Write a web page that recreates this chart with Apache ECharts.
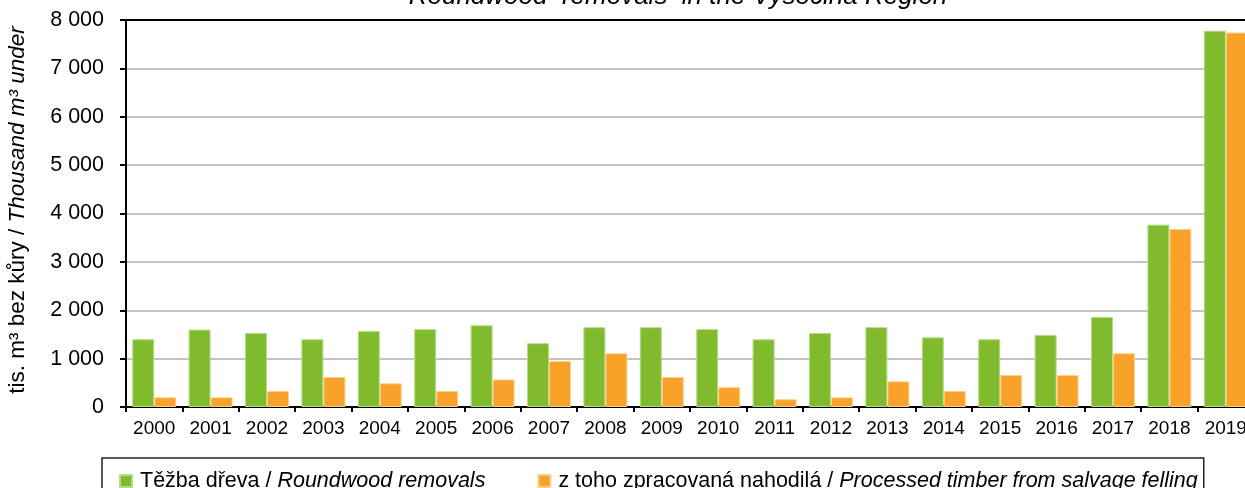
<!DOCTYPE html>
<html>
<head>
<meta charset="utf-8">
<script src="https://cdn.jsdelivr.net/npm/echarts@6/dist/echarts.min.js"></script>
<style>
html,body{margin:0;padding:0;background:#fff;overflow:hidden;width:1245px;height:488px;}
#c{width:1270px;height:488px;}
</style>
</head>
<body>
<div id="c"></div>
<script>
var categories = ['2000','2001','2002','2003','2004','2005','2006','2007','2008','2009','2010','2011','2012','2013','2014','2015','2016','2017','2018','2019'];
var roundwood = [1400,1600,1530,1400,1570,1610,1690,1320,1650,1650,1610,1400,1530,1650,1440,1400,1490,1860,3770,7780];
var salvage = [200,200,330,620,490,330,570,950,1110,620,410,160,200,530,330,660,660,1110,3680,7740];
var seriesNames = ['Těžba dřeva / Roundwood removals','z toho zpracovaná nahodilá / Processed timber from salvage felling'];
var yTicks = [0,1000,2000,3000,4000,5000,6000,7000,8000];

var FONT = '"Liberation Sans", Arial, sans-serif';
var chart = echarts.init(document.getElementById('c'));
function fmt(v){ return String(v).replace(/\B(?=(\d{3})+(?!\d))/g, ' '); }

chart.setOption({
  animation: false,
  backgroundColor: '#ffffff',
  textStyle: {fontFamily: FONT},
  grid: {left: 126, top: 20, width: 1128, height: 387},
  graphic: [
    {type:'text', x: 678, y: 10, style: {
      text: 'Roundwood  removals  in the Vysočina Region',
      font: 'italic 26px ' + FONT, fill: '#000', textAlign: 'center', textVerticalAlign: 'bottom'}},
    {type:'text', x: 18, y: 210, rotation: Math.PI/2, style: {
      text: '{n|tis. m³ bez kůry / }{i|Thousand m³ under}',
      textAlign: 'center', textVerticalAlign: 'middle',
      rich: {
        n: {fontFamily: FONT, fontSize: 22.5, fill: '#000', color:'#000'},
        i: {fontFamily: FONT, fontSize: 22.5, fontStyle: 'italic', fill: '#000', color:'#000'}
      }}}
  ],
  legend: {
    left: 102, top: 458,
    padding: [12, 6, 10, 17],
    borderColor: '#222', borderWidth: 1.5,
    itemWidth: 12, itemHeight: 12, itemGap: 52,
    icon: 'rect',
    data: seriesNames,
    formatter: function(name){
      var p = name.split(' / ');
      return '{n|' + p[0] + ' / }{i|' + p[1] + '}';
    },
    textStyle: {
      padding: [0,0,0,3],
      rich: {
        n: {fontFamily: FONT, fontSize: 21.5, color: '#000'},
        i: {fontFamily: FONT, fontSize: 21.5, color: '#000', fontStyle: 'italic'}
      }
    }
  },
  xAxis: [{
    type: 'category', data: categories,
    axisLine: {lineStyle: {color: '#000', width: 2}},
    axisTick: {show: true, alignWithLabel: false, length: 5, lineStyle: {color:'#000', width: 2}},
    axisLabel: {color: '#000', fontSize: 19, fontFamily: FONT, margin: 12, interval: 0}
  },{
    type: 'category', data: categories, position: 'top',
    axisLine: {lineStyle: {color: '#000', width: 2}},
    axisTick: {show: false}, axisLabel: {show: false}
  }],
  yAxis: {
    type: 'value', min: 0, max: 8000, interval: 1000,
    axisLine: {show: true, lineStyle: {color: '#000', width: 2}},
    axisTick: {show: true, length: 6, lineStyle: {color:'#000', width: 2}},
    axisLabel: {color: '#000', fontSize: 21.5, fontFamily: FONT, margin: 22, formatter: function(v){ return fmt(v); }},
    splitLine: {show: true, lineStyle: {color: '#c4c4c4', width: 2}}
  },
  series: [
    {name: seriesNames[0], type: 'bar', data: roundwood, barGap: '0%', barCategoryGap: '22%',
     itemStyle: {color: '#80bb2e', borderColor: '#b5dc8a', borderWidth: 1}},
    {name: seriesNames[1], type: 'bar', data: salvage, barGap: '0%', barCategoryGap: '22%',
     itemStyle: {color: '#f9a229', borderColor: '#fcd08a', borderWidth: 1}}
  ]
});
</script>
</body>
</html>
